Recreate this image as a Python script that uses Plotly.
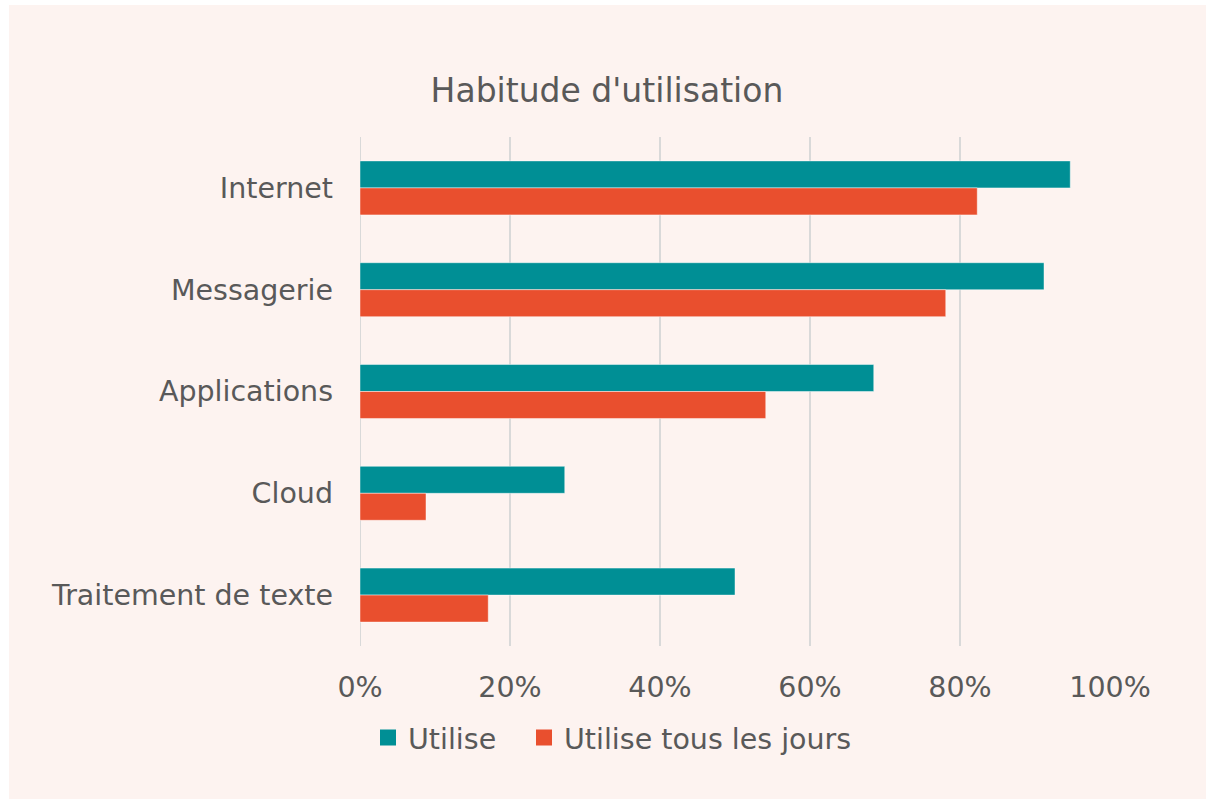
import plotly.graph_objects as go

categories = ["Internet", "Messagerie", "Applications", "Cloud", "Traitement de texte"]
utilise = [0.947, 0.912, 0.685, 0.273, 0.50]
utilise_jours = [0.823, 0.781, 0.541, 0.088, 0.171]
series_names = ["Utilise", "Utilise tous les jours"]
colors = ["#008F95", "#E94F2E"]
x_ticks = [0, 0.2, 0.4, 0.6, 0.8, 1.0]
x_tick_labels = ["0%", "20%", "40%", "60%", "80%", "100%"]

FONT = "DejaVu Sans, Verdana, sans-serif"
TXT = "#595959"
BG = "#FDF3F0"
FS = 28.5

L, R, T, B = 360, 96, 137, 153
W, H = 1206, 799
pw, ph = W - L - R, H - T - B

def px(x):
    return (x - L) / pw

def py(y):
    return (H - B - y) / ph

legend_ids = ["legend", "legend2"]
legend_left = [368, 524]

fig = go.Figure()
for name, vals, col, lg in zip(series_names, [utilise, utilise_jours], colors, legend_ids):
    fig.add_trace(go.Bar(
        y=categories, x=vals, name=name, orientation="h",
        marker=dict(color=col, line=dict(color="rgba(255,255,255,0.45)", width=1)),
        showlegend=False,
    ))
    fig.add_trace(go.Scatter(
        x=[None], y=[None], mode="markers", name=name, legend=lg,
        marker=dict(symbol="square", size=16, color=col),
        showlegend=True,
    ))

legend_style = dict(orientation="h", xanchor="left", y=py(738), yanchor="middle",
                    font=dict(size=FS, color=TXT), bgcolor="rgba(0,0,0,0)",
                    itemsizing="trace")

fig.update_layout(
    width=W, height=H,
    margin=dict(l=L, r=R, t=T, b=B, pad=0),
    paper_bgcolor=BG, plot_bgcolor=BG,
    font=dict(family=FONT, color=TXT, size=FS),
    barmode="group", bargap=0.47, bargroupgap=0,
    title=dict(text="Habitude d'utilisation", x=607 / W, xref="container", xanchor="center",
               y=1 - 90 / H, yref="container", yanchor="middle",
               font=dict(size=33, color=TXT, family=FONT)),
    xaxis=dict(range=[0, 1.0], tickvals=x_ticks, ticktext=x_tick_labels,
               showgrid=True, gridcolor="#D9D9D9", gridwidth=1.5,
               zeroline=False, showline=False, ticks="", ticklabelstandoff=21,
               tickfont=dict(size=FS, color=TXT)),
    yaxis=dict(categoryorder="array", categoryarray=categories, autorange="reversed",
               showgrid=False, zeroline=False, ticks="", ticklabelstandoff=26,
               tickfont=dict(size=FS, color=TXT)),
    legend=dict(x=px(legend_left[0]), **legend_style),
    legend2=dict(x=px(legend_left[1]), **legend_style),
    shapes=[
        dict(type="line", xref="x", yref="paper", x0=0, x1=0, y0=0, y1=1,
             line=dict(color="#D9D9D9", width=2), layer="below"),
        dict(type="rect", xref="paper", yref="paper", x0=px(0), x1=px(9), y0=py(H), y1=py(0),
             fillcolor="white", line=dict(width=0), layer="below"),
        dict(type="rect", xref="paper", yref="paper", x0=px(0), x1=px(W), y0=py(5), y1=py(0),
             fillcolor="white", line=dict(width=0), layer="below"),
    ],
)

fig.write_html("out.html", config={"displayModeBar": False},
               post_script="document.body.style.margin='0';document.body.style.overflow='hidden';")
